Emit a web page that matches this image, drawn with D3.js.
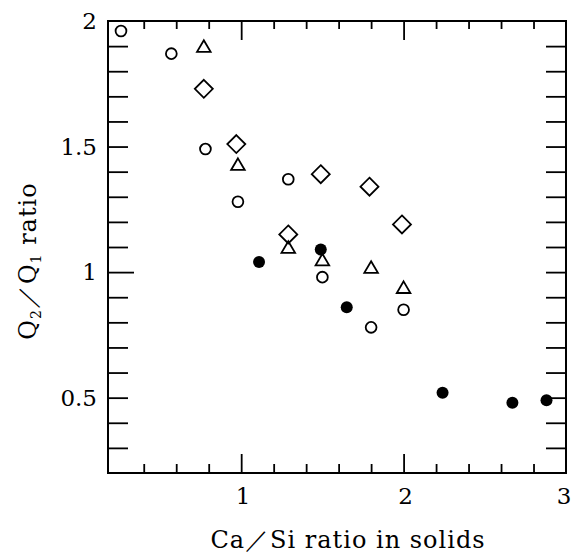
<!DOCTYPE html>
<html>
<head>
<meta charset="utf-8">
<script src="https://cdn.jsdelivr.net/npm/d3@7"></script>
<style>
  html, body { margin: 0; padding: 0; background: #fff; }
  svg { display: block; }
  text { font-family: "DejaVu Serif", "Liberation Serif", serif; fill: #000; }
</style>
</head>
<body>
<div id="chart"></div>
<script>
// ---- data ----
const openCircleX = [0.26, 0.57, 0.78, 0.98, 1.29, 1.50, 1.80, 2.00];
const openCircleY = [1.96, 1.87, 1.49, 1.28, 1.37, 0.98, 0.78, 0.85];

const triangleX = [0.77, 0.98, 1.29, 1.50, 1.80, 2.00];
const triangleY = [1.90, 1.43, 1.10, 1.05, 1.02, 0.94];

const diamondX = [0.77, 0.97, 1.29, 1.49, 1.79, 1.99];
const diamondY = [1.73, 1.51, 1.15, 1.39, 1.34, 1.19];

const filledCircleX = [1.11, 1.49, 1.65, 2.24, 2.67, 2.88];
const filledCircleY = [1.04, 1.09, 0.86, 0.52, 0.48, 0.49];

const xTickLabels = [1, 2, 3];
const yTickLabels = [0.5, 1, 1.5, 2];
const xMinorTicks = [0.4, 0.6, 0.8, 1.0, 1.2, 1.4, 1.6, 1.8, 2.0, 2.2, 2.4, 2.6, 2.8];
const yMinorTicks = [0.3, 0.4, 0.5, 0.6, 0.7, 0.8, 0.9, 1.0, 1.1, 1.2, 1.3, 1.4, 1.5, 1.6, 1.7, 1.8, 1.9];

const xTitle = "Ca／Si ratio in solids";

// ---- layout ----
const W = 573, H = 555;
const L = 108, R = 566, T = 21, B = 473;

const svg = d3.select("#chart").append("svg").attr("width", W).attr("height", H);

const x = d3.scaleLinear().domain([0.18, 3]).range([L, R]);
const y = d3.scaleLinear().domain([0.2, 2]).range([B, T]);

// frame
svg.append("rect").attr("x", L).attr("y", T).attr("width", R - L).attr("height", B - T)
  .attr("fill", "none").attr("stroke", "#000").attr("stroke-width", 2);

const isMajorX = v => xTickLabels.some(t => Math.abs(t - v) < 1e-6);
const isMajorY = v => Math.abs(v - 1) < 1e-6;

// bottom ticks (inward)
const bottomAxis = d3.axisBottom(x).tickValues(xMinorTicks).tickFormat("")
  .tickSizeInner(0).tickSizeOuter(0);
const gb = svg.append("g").attr("transform", `translate(0,${B})`).call(bottomAxis);
gb.select(".domain").remove();
gb.selectAll(".tick line").attr("y2", d => isMajorX(d) ? -19 : -9).attr("stroke-width", 1.8);

// top ticks (inward)
const topAxis = d3.axisTop(x).tickValues(xMinorTicks).tickFormat("")
  .tickSizeInner(0).tickSizeOuter(0);
const gt = svg.append("g").attr("transform", `translate(0,${T})`).call(topAxis);
gt.select(".domain").remove();
gt.selectAll(".tick line").attr("y2", d => isMajorX(d) ? 19 : 8).attr("stroke-width", 1.8);

// left ticks (inward)
const leftAxis = d3.axisLeft(y).tickValues(yMinorTicks).tickFormat("").tickSizeInner(0).tickSizeOuter(0);
const gl = svg.append("g").attr("transform", `translate(${L},0)`).call(leftAxis);
gl.select(".domain").remove();
gl.selectAll(".tick line").attr("x2", d => isMajorY(d) ? 26 : 20).attr("stroke-width", 1.8);

// right ticks (inward)
const rightAxis = d3.axisRight(y).tickValues(yMinorTicks).tickFormat("").tickSizeInner(0).tickSizeOuter(0);
const gr = svg.append("g").attr("transform", `translate(${R},0)`).call(rightAxis);
gr.select(".domain").remove();
gr.selectAll(".tick line").attr("x2", -20).attr("stroke-width", 1.8);

// tick labels
svg.append("g").selectAll("text").data(xTickLabels).join("text")
  .attr("x", d => Math.min(x(d) + 2, W - 9)).attr("y", 504)
  .attr("text-anchor", "middle").attr("font-size", 23)
  .text(d => d3.format("")(d));

svg.append("g").selectAll("text").data(yTickLabels).join("text")
  .attr("x", 97).attr("y", d => y(d)).attr("dy", "0.36em")
  .attr("text-anchor", "end").attr("font-size", 23)
  .text(d => d3.format("")(d));

// axis titles
svg.append("text").attr("x", 348).attr("y", 548).attr("text-anchor", "middle")
  .attr("font-size", 24).attr("letter-spacing", 1).text(xTitle);

const yt = svg.append("text").attr("transform", `translate(36,261) rotate(-90)`)
  .attr("text-anchor", "middle").attr("font-size", 24).attr("letter-spacing", 1);
yt.append("tspan").text("Q");
yt.append("tspan").attr("font-size", 14).attr("dy", 5).text("2");
yt.append("tspan").attr("dy", -5).text("／Q");
yt.append("tspan").attr("font-size", 14).attr("dy", 5).text("1");
yt.append("tspan").attr("dy", -5).text(" ratio");

// ---- marks ----
const zip = (xs, ys) => xs.map((v, i) => ({ x: v, y: ys[i] }));

// open circles
svg.append("g").selectAll("circle").data(zip(openCircleX, openCircleY)).join("circle")
  .attr("cx", d => x(d.x)).attr("cy", d => y(d.y)).attr("r", 5.4)
  .attr("fill", "#fff").attr("stroke", "#000").attr("stroke-width", 1.8);

// triangles
const triPath = "M0,-5.8 L6.8,5.8 L-6.8,5.8 Z";
svg.append("g").selectAll("path").data(zip(triangleX, triangleY)).join("path")
  .attr("transform", d => `translate(${x(d.x)},${y(d.y)})`).attr("d", triPath)
  .attr("fill", "#fff").attr("stroke", "#000").attr("stroke-width", 1.8).attr("stroke-linejoin", "miter");

// diamonds
const diaPath = "M0,-9 L9,0 L0,9 L-9,0 Z";
svg.append("g").selectAll("path").data(zip(diamondX, diamondY)).join("path")
  .attr("transform", d => `translate(${x(d.x)},${y(d.y)})`).attr("d", diaPath)
  .attr("fill", "none").attr("stroke", "#000").attr("stroke-width", 1.8);

// filled circles
svg.append("g").selectAll("circle").data(zip(filledCircleX, filledCircleY)).join("circle")
  .attr("cx", d => x(d.x)).attr("cy", d => y(d.y)).attr("r", 6)
  .attr("fill", "#000");
</script>
</body>
</html>
